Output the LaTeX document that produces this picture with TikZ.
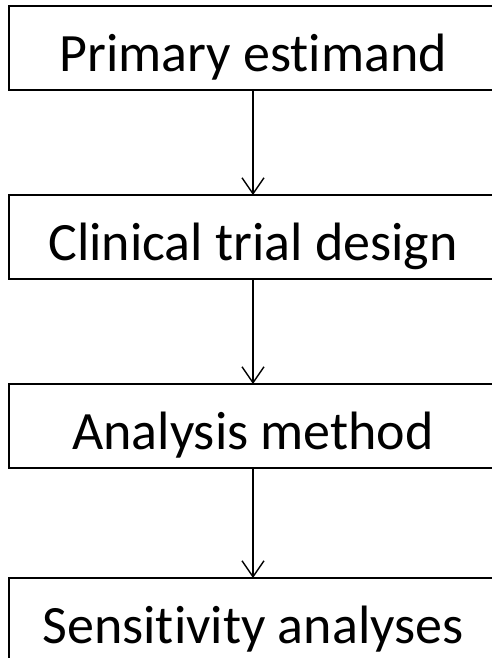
\documentclass[tikz,border=0pt]{standalone}
\usepackage{fontspec}
\setmainfont[Ligatures=NoCommon]{Carlito}
\usetikzlibrary{positioning}
\usetikzlibrary{arrows.meta}

\begin{document}
\begin{tikzpicture}[x=1pt,y=1pt,
  stage/.style={draw,line width=1.8pt,minimum width=488pt,minimum height=84pt,
    inner sep=0pt,outer sep=0pt,text height=47pt,text depth=0pt,
    font=\fontsize{54}{60}\selectfont},
  flow/.style={line width=1.4pt,-{Straight Barb[length=16pt,width=22pt,line width=1.4pt]}}]
  \useasboundingbox (0,0) rectangle (491,-658);

  % primary estimand
  \node[stage] at (253,-48) (estimand) {Primary estimand};

  % trial design
  \node[stage,node distance=105pt,below=of estimand] (design) {Clinical trial design};

  % analysis method
  \node[stage,node distance=105pt,below=of design] (method) {Analysis method};

  % sensitivity
  \node[stage,node distance=110pt,below=of method] (sensitivity) {Sensitivity analyses};

  % arrows between stages
  \draw[flow] (estimand) -- (design);
  \draw[flow] (design) -- (method);
  \draw[flow] (method) -- (sensitivity);

\end{tikzpicture}
\end{document}
